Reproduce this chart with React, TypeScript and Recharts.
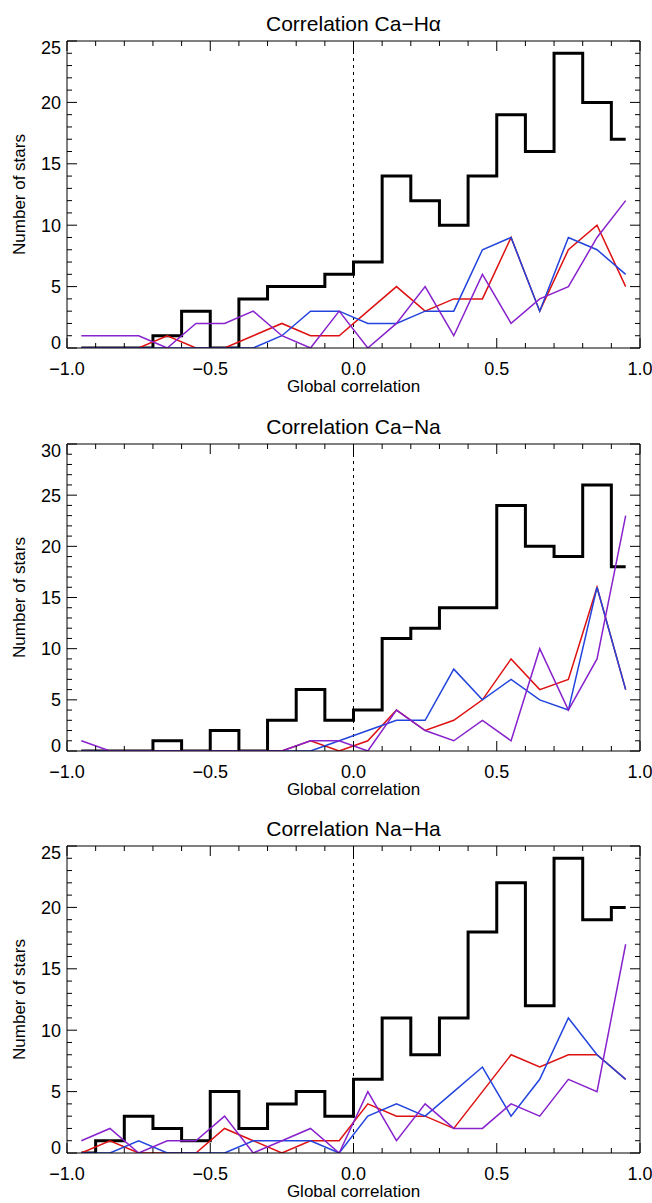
import React from 'react';
import {
  ComposedChart,
  Line,
  XAxis,
  YAxis,
  ReferenceLine,
  Label,
} from 'recharts';

// bin centres of the correlation histogram (width 0.1)
const BINS = [
  -0.95, -0.85, -0.75, -0.65, -0.55, -0.45, -0.35, -0.25, -0.15, -0.05,
  0.05, 0.15, 0.25, 0.35, 0.45, 0.55, 0.65, 0.75, 0.85, 0.95,
];

const X_TICKS = [
  -1, -0.9, -0.8, -0.7, -0.6, -0.5, -0.4, -0.3, -0.2, -0.1, 0,
  0.1, 0.2, 0.3, 0.4, 0.5, 0.6, 0.7, 0.8, 0.9, 1,
];
const X_MAJOR = [-1, -0.5, 0, 0.5, 1];
const X_LABELS = ['\u22121.0', '\u22120.5', '0.0', '0.5', '1.0'];

// Ca - Halpha
const caHaAll = [0, 0, 0, 1, 3, 0, 4, 5, 5, 6, 7, 14, 12, 10, 14, 19, 16, 24, 20, 17];
const caHaRed = [0, 0, 0, 1, 0, 0, 1, 2, 1, 1, 3, 5, 3, 4, 4, 9, 3, 8, 10, 5];
const caHaBlue = [0, 0, 0, 0, 0, 0, 0, 1, 3, 3, 2, 2, 3, 3, 8, 9, 3, 9, 8, 6];
const caHaPurple = [1, 1, 1, 0, 2, 2, 3, 1, 0, 3, 0, 2, 5, 1, 6, 2, 4, 5, 9, 12];

// Ca - Na
const caNaAll = [0, 0, 0, 1, 0, 2, 0, 3, 6, 3, 4, 11, 12, 14, 14, 24, 20, 19, 26, 18];
const caNaRed = [0, 0, 0, 0, 0, 0, 0, 0, 1, 0, 1, 4, 2, 3, 5, 9, 6, 7, 16, 6];
const caNaBlue = [0, 0, 0, 0, 0, 0, 0, 0, 0, 1, 2, 3, 3, 8, 5, 7, 5, 4, 16, 6];
const caNaPurple = [1, 0, 0, 0, 0, 0, 0, 0, 1, 1, 0, 4, 2, 1, 3, 1, 10, 4, 9, 23];

// Na - Ha
const naHaAll = [0, 1, 3, 2, 1, 5, 2, 4, 5, 3, 6, 11, 8, 11, 18, 22, 12, 24, 19, 20];
const naHaRed = [0, 1, 0, 0, 0, 2, 1, 0, 1, 1, 4, 3, 3, 2, 5, 8, 7, 8, 8, 6];
const naHaBlue = [0, 0, 1, 0, 0, 0, 1, 1, 1, 0, 3, 4, 3, 5, 7, 3, 6, 11, 8, 6];
const naHaPurple = [1, 2, 0, 1, 1, 3, 0, 1, 2, 0, 5, 1, 4, 2, 2, 4, 3, 6, 5, 17];

const FONT = '"Liberation Sans", Arial, Helvetica, sans-serif';
const RED = '#dd1111';
const BLUE = '#2244dd';
const PURPLE = '#8822cc';

const W = 652;
const H = 403;

const isMajorX = (v: number) => Math.abs(v * 2 - Math.round(v * 2)) < 1e-6;

const BottomTick = (props: any) => {
  const { x, y, payload } = props;
  const v = payload.value;
  const major = isMajorX(v);
  const idx = X_MAJOR.findIndex((m) => Math.abs(m - v) < 1e-6);
  return (
    <g>
      <line x1={x} x2={x} y1={y} y2={y - (major ? 10 : 5)} stroke="#000" strokeWidth={1} />
      {major && (
        <text x={x} y={y + 27} textAnchor="middle" fontSize={18} fontFamily={FONT} fill="#000">
          {X_LABELS[idx]}
        </text>
      )}
    </g>
  );
};

const TopTick = (props: any) => {
  const { x, y, payload } = props;
  const major = isMajorX(payload.value);
  return <line x1={x} x2={x} y1={y} y2={y + (major ? 10 : 5)} stroke="#000" strokeWidth={1} />;
};

const makeLeftTick = (max: number) => (props: any) => {
  const { x, y, payload } = props;
  const v = payload.value;
  const major = v % 5 === 0;
  // IDL nudges the end labels inside the box
  const dy = v === 0 ? -6 : v === max ? 6 : 0;
  return (
    <g>
      <line x1={x} x2={x + (major ? 10 : 5)} y1={y} y2={y} stroke="#000" strokeWidth={1} />
      {major && (
        <text x={x - 6} y={y + dy + 6.5} textAnchor="end" fontSize={18} fontFamily={FONT} fill="#000">
          {v}
        </text>
      )}
    </g>
  );
};

const RightTick = (props: any) => {
  const { x, y, payload } = props;
  const major = payload.value % 5 === 0;
  return <line x1={x} x2={x - (major ? 10 : 5)} y1={y} y2={y} stroke="#000" strokeWidth={1} />;
};

function Panel({
  title,
  max,
  all,
  red,
  blue,
  purple,
}: {
  title: string;
  max: number;
  all: number[];
  red: number[];
  blue: number[];
  purple: number[];
}) {
  const data = BINS.map((b, i) => ({ x: b, all: all[i], red: red[i], blue: blue[i], purple: purple[i] }));
  const yTicks = Array.from({ length: max + 1 }, (_, i) => i);
  const LeftTick = makeLeftTick(max);

  return (
    <ComposedChart width={W} height={H} data={data} margin={{ top: 40, right: 11, left: 0, bottom: 5 }}>
      <XAxis
        xAxisId="t"
        orientation="top"
        type="number"
        dataKey="x"
        domain={[-1, 1]}
        ticks={X_TICKS}
        interval={0}
        height={1}
        tickSize={0}
        tickMargin={0}
        axisLine={{ stroke: '#000' }}
        tick={<TopTick />}
        allowDataOverflow
      >
        <Label
          content={(p: any) => {
            const vb = p.viewBox;
            return (
              <text x={vb.x + vb.width / 2} y={vb.y - 9} textAnchor="middle" fontSize={21} fontFamily={FONT} fill="#000">
                {title}
              </text>
            );
          }}
        />
      </XAxis>
      <XAxis
        xAxisId="b"
        type="number"
        dataKey="x"
        domain={[-1, 1]}
        ticks={X_TICKS}
        interval={0}
        height={50}
        tickSize={0}
        tickMargin={0}
        axisLine={{ stroke: '#000' }}
        tick={<BottomTick />}
        allowDataOverflow
      >
        <Label
          content={(p: any) => {
            const vb = p.viewBox;
            return (
              <text x={vb.x + vb.width / 2} y={vb.y + 44} textAnchor="middle" fontSize={17} fontFamily={FONT} fill="#000">
                Global correlation
              </text>
            );
          }}
        />
      </XAxis>
      <YAxis
        yAxisId="l"
        type="number"
        domain={[0, max]}
        ticks={yTicks}
        interval={0}
        width={67}
        tickSize={0}
        tickMargin={0}
        axisLine={{ stroke: '#000' }}
        tick={<LeftTick />}
        allowDataOverflow
      >
        <Label
          content={(p: any) => {
            const vb = p.viewBox;
            const cy = vb.y + vb.height / 2;
            return (
              <text x={19} y={cy} transform={`rotate(-90, 19, ${cy})`} textAnchor="middle" dominantBaseline="central" fontSize={17} fontFamily={FONT} fill="#000">
                Number of stars
              </text>
            );
          }}
        />
      </YAxis>
      <YAxis
        yAxisId="r"
        orientation="right"
        type="number"
        domain={[0, max]}
        ticks={yTicks}
        interval={0}
        width={1}
        tickSize={0}
        tickMargin={0}
        axisLine={{ stroke: '#000' }}
        tick={<RightTick />}
        allowDataOverflow
      />
      <ReferenceLine xAxisId="b" yAxisId="l" x={0} stroke="#000" strokeWidth={1} strokeDasharray="3 4" />
      <Line xAxisId="b" yAxisId="l" type="step" dataKey="all" stroke="#000" strokeWidth={3} dot={false} isAnimationActive={false} />
      <Line xAxisId="b" yAxisId="l" type="linear" dataKey="red" stroke={RED} strokeWidth={1.5} dot={false} isAnimationActive={false} />
      <Line xAxisId="b" yAxisId="l" type="linear" dataKey="blue" stroke={BLUE} strokeWidth={1.5} dot={false} isAnimationActive={false} />
      <Line xAxisId="b" yAxisId="l" type="linear" dataKey="purple" stroke={PURPLE} strokeWidth={1.5} dot={false} isAnimationActive={false} />
    </ComposedChart>
  );
}

export default function App() {
  return (
    <div style={{ position: 'absolute', left: 0, top: 0, width: W, height: 1203, overflow: 'hidden', background: '#fff' }}>
      <div style={{ position: 'absolute', left: 0, top: 0 }}>
        <Panel title={'Correlation Ca\u2212H\u03b1'} max={25} all={caHaAll} red={caHaRed} blue={caHaBlue} purple={caHaPurple} />
      </div>
      <div style={{ position: 'absolute', left: 0, top: 403 }}>
        <Panel title={'Correlation Ca\u2212Na'} max={30} all={caNaAll} red={caNaRed} blue={caNaBlue} purple={caNaPurple} />
      </div>
      <div style={{ position: 'absolute', left: 0, top: 805 }}>
        <Panel title={'Correlation Na\u2212Ha'} max={25} all={naHaAll} red={naHaRed} blue={naHaBlue} purple={naHaPurple} />
      </div>
    </div>
  );
}
